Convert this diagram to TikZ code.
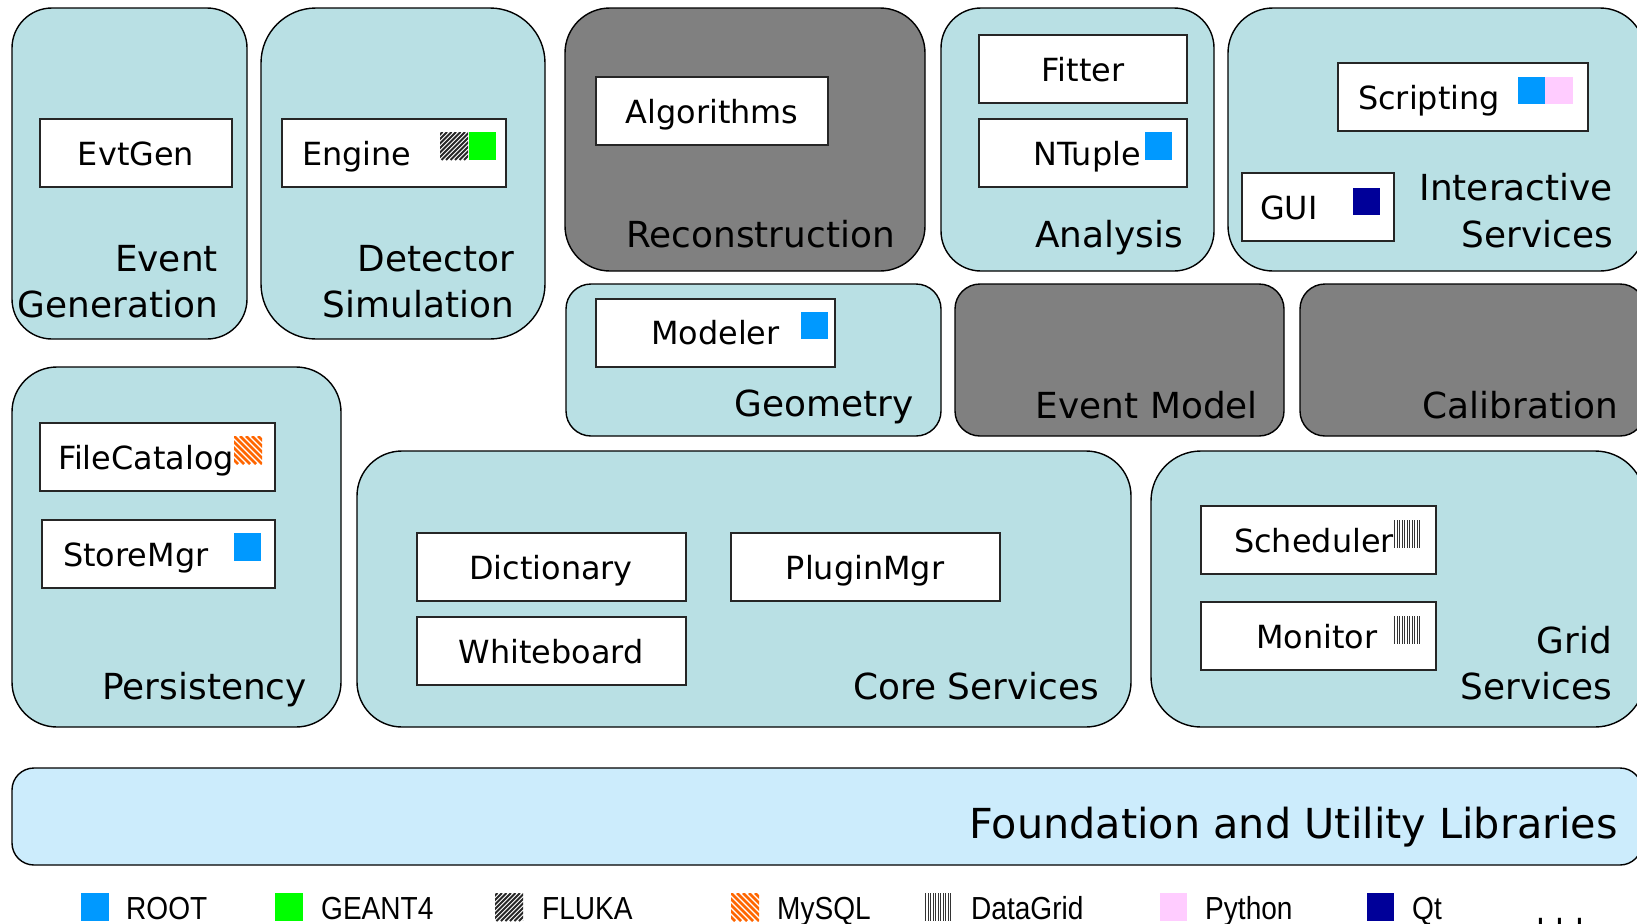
\documentclass[tikz,border=0pt]{standalone}
\usepackage{fontspec}
\setmainfont{DejaVu Sans}
\newfontfamily\legfont{Liberation Sans}
\definecolor{tealbox}{RGB}{185,224,228}
\definecolor{greybox}{RGB}{128,128,128}
\definecolor{foundbox}{RGB}{204,236,252}
\definecolor{rootblue}{RGB}{0,153,255}
\definecolor{geantgreen}{RGB}{0,255,0}
\definecolor{qtnavy}{RGB}{0,0,153}
\definecolor{pypink}{RGB}{255,204,255}
\definecolor{sqlorange}{RGB}{255,102,0}
\newcommand\hatchfluka[2]{%
  \begin{scope}[shift={(#1,#2)}]
    \fill[white] (0,0) rectangle (28,28);
    \clip (0,0) rectangle (28,28);
    \foreach \k in {-30,-25.5,...,30} \draw[line width=1.9bp, black!85] (\k,28) -- ++(28,-28);
  \end{scope}}
\newcommand\hatchmysql[2]{%
  \begin{scope}[shift={(#1,#2)}]
    \fill[white] (0,0) rectangle (28,28);
    \clip (0,0) rectangle (28,28);
    \foreach \k in {-30,-24,...,30} \draw[line width=2.8bp, sqlorange] (\k,0) -- ++(28,28);
  \end{scope}}
\newcommand\gridicon[2]{%
  \begin{scope}[shift={(#1,#2)}]
    \fill[white] (0,0) rectangle (28,28);
    \foreach \k in {0.6,3.1,...,27.5} \draw[line width=0.9bp, black!80] (\k,0) -- (\k,28);
  \end{scope}}
\begin{document}
\begin{tikzpicture}[x=1bp,y=-1bp,
  grp/.style={draw=black, line width=1.4bp, fill=tealbox},
  dgrp/.style={draw=black, line width=1.4bp, fill=greybox},
  ibox/.style={draw=black!85, line width=1.6bp, fill=white, inner sep=0pt, outer sep=0pt,
    minimum height=68bp, anchor=north west},
  itext/.style={font=\fontsize{32}{38}\selectfont, inner sep=0pt},
  glabel/.style={font=\fontsize{36}{44}\selectfont, inner sep=0pt, anchor=base east},
  legtext/.style={font=\legfont\fontsize{32}{38}\selectfont, inner sep=0pt, anchor=base west}]
\clip (0,0) rectangle (1637,923);
\fill[white] (0,0) rectangle (1637,923);

% ---- containers ----
\draw[grp, rounded corners=40bp] (12,8) rectangle (247,339);
\draw[grp, rounded corners=55bp] (261,8) rectangle (545,339);
\draw[dgrp, rounded corners=45bp] (565,8) rectangle (925,271);
\draw[grp, rounded corners=40bp] (941,8) rectangle (1214,271);
\draw[grp, rounded corners=45bp] (1228,8) rectangle (1645,271);
\draw[grp, rounded corners=25bp] (566,284) rectangle (941,436);
\draw[dgrp, rounded corners=25bp] (955,284) rectangle (1284,436);
\draw[dgrp, rounded corners=25bp] (1300,284) rectangle (1645,436);
\draw[grp, rounded corners=45bp] (12,367) rectangle (341,727);
\draw[grp, rounded corners=45bp] (357,451) rectangle (1131,727);
\draw[grp, rounded corners=50bp] (1151,451) rectangle (1645,727);
\draw[draw=black, line width=1.4bp, fill=foundbox, rounded corners=22bp] (12,768) rectangle (1642,865);

% ---- inner boxes ----
\node[ibox, minimum width=192bp] (evtgen) at (40,119) {};
\node[ibox, minimum width=224bp] (engine) at (282,119) {};
\node[ibox, minimum width=232bp] (algorithms) at (596,77) {};
\node[ibox, minimum width=208bp] (fitter) at (979,35) {};
\node[ibox, minimum width=208bp] (ntuple) at (979,119) {};
\node[ibox, minimum width=250bp] (scripting) at (1338,63) {};
\node[ibox, minimum width=152bp] (gui) at (1242,173) {};
\node[ibox, minimum width=239bp] (modeler) at (596,299) {};
\node[ibox, minimum width=235bp] (filecatalog) at (40,423) {};
\node[ibox, minimum width=233bp] (storemgr) at (42,520) {};
\node[ibox, minimum width=269bp] (dictionary) at (417,533) {};
\node[ibox, minimum width=269bp] (whiteboard) at (417,617) {};
\node[ibox, minimum width=269bp] (pluginmgr) at (731,533) {};
\node[ibox, minimum width=235bp] (scheduler) at (1201,506) {};
\node[ibox, minimum width=235bp] (monitor) at (1201,602) {};

% ---- inner texts ----
\node[itext, anchor=mid] (t-evtgen) at (136,163) {EvtGen};
\node[itext, anchor=mid west] (t-engine) at (302,163) {Engine};
\node[itext, anchor=mid] (t-algorithms) at (712,121) {Algorithms};
\node[itext, anchor=mid] (t-fitter) at (1083,79) {Fitter};
\node[itext, anchor=mid east] (t-ntuple) at (1141,163) {NTuple};
\node[itext, anchor=mid west] (t-scripting) at (1358,107) {Scripting};
\node[itext, anchor=mid west] (t-gui) at (1260,217) {GUI};
\node[itext, anchor=mid west] (t-modeler) at (651,342) {Modeler};
\node[itext, anchor=mid east] (t-filecatalog) at (234,467) {FileCatalog};
\node[itext, anchor=mid west] (t-storemgr) at (63,564) {StoreMgr};
\node[itext, anchor=mid] (t-dictionary) at (551,577) {Dictionary};
\node[itext, anchor=mid] (t-whiteboard) at (551,661) {Whiteboard};
\node[itext, anchor=mid] (t-pluginmgr) at (865,577) {PluginMgr};
\node[itext, anchor=mid east] (t-scheduler) at (1394,550) {Scheduler};
\node[itext, anchor=mid west] (t-monitor) at (1256,646) {Monitor};

% ---- icons in boxes ----
\hatchfluka{440}{132}
\fill[geantgreen] (469,132) rectangle (496,160);
\fill[rootblue] (1145,132) rectangle (1172,160);
\fill[rootblue] (1518,77) rectangle (1545,104);
\fill[pypink] (1545,77) rectangle (1573,104);
\fill[qtnavy] (1353,188) rectangle (1380,215);
\fill[rootblue] (801,312) rectangle (828,339);
\hatchmysql{234}{436}
\fill[rootblue] (234,533) rectangle (261,561);
\gridicon{1394}{520}
\gridicon{1394}{616}

% ---- group labels ----
\node[glabel] (l-event) at (218,271) {Event};
\node[glabel] (l-generation) at (218,317) {Generation};
\node[glabel] (l-detector) at (514,271) {Detector};
\node[glabel] (l-simulation) at (514,317) {Simulation};
\node[glabel] (l-reco) at (895,247) {Reconstruction};
\node[glabel] (l-analysis) at (1183,247) {Analysis};
\node[glabel] (l-interactive) at (1613,200) {Interactive};
\node[glabel] (l-services1) at (1613,247) {Services};
\node[glabel] (l-geometry) at (914,416) {Geometry};
\node[glabel] (l-eventmodel) at (1258,418) {Event Model};
\node[glabel] (l-calibration) at (1618,418) {Calibration};
\node[glabel] (l-persistency) at (307,699) {Persistency};
\node[glabel] (l-core) at (1099,699) {Core Services};
\node[glabel] (l-grid) at (1612,653) {Grid};
\node[glabel] (l-services2) at (1612,699) {Services};
\node[glabel, font=\fontsize{41.5}{48}\selectfont] (l-found) at (1618,838) {Foundation and Utility Libraries};

% ---- legend ----
\fill[rootblue] (81,893) rectangle (109,921);
\node[legtext] (g-root) at (126,919) {\scalebox{0.88}[1]{ROOT}};
\fill[geantgreen] (275,893) rectangle (303,921);
\node[legtext] (g-geant) at (321,919) {\scalebox{0.88}[1]{GEANT4}};
\hatchfluka{495}{893}
\node[legtext] (g-fluka) at (542,919) {\scalebox{0.88}[1]{FLUKA}};
\hatchmysql{731}{893}
\node[legtext] (g-mysql) at (777,919) {\scalebox{0.88}[1]{MySQL}};
\gridicon{925}{893}
\node[legtext] (g-datagrid) at (971,919) {\scalebox{0.88}[1]{DataGrid}};
\fill[pypink] (1160,893) rectangle (1187,921);
\node[legtext] (g-python) at (1205,919) {\scalebox{0.88}[1]{Python}};
\fill[qtnavy] (1367,893) rectangle (1394,921);
\node[legtext] (g-qt) at (1412,919) {\scalebox{0.88}[1]{Qt}};
\node[legtext] (g-dots) at (1536,926) {\scalebox{1}[2.4]{.\,\,.\,\,.}};
\end{tikzpicture}
\end{document}
